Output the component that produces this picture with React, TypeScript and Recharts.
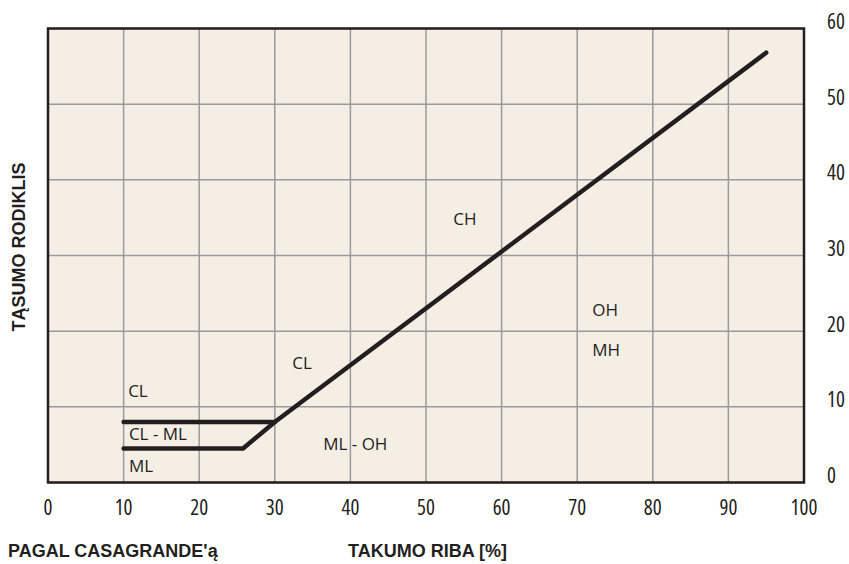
import React from 'react';
import { LineChart, Line, XAxis, YAxis, CartesianGrid, ReferenceArea, ReferenceDot } from 'recharts';

// Casagrande plasticity chart
const xTicks = [0, 10, 20, 30, 40, 50, 60, 70, 80, 90, 100];
const yTicks = [0, 10, 20, 30, 40, 50, 60];

// A-line with the CL-ML lower boundary
const aLineX = [10, 25.8, 30, 95];
const aLineY = [4.5, 4.5, 8, 56.8];

// upper boundary of the CL-ML strip
const clmlTopX = [10, 30];
const clmlTopY = [8, 8];

// zone names and where they sit (left edge, vertical centre)
const zoneNames = ['CL', 'CL - ML', 'ML', 'ML - OH', 'CL', 'CH', 'OH', 'MH'];
const zoneX = [10.6, 10.7, 10.7, 36.4, 32.3, 53.6, 72.0, 72.0];
const zoneY = [12.1, 6.4, 2.2, 5.1, 15.8, 34.8, 22.8, 17.5];

const aLine = aLineX.map((x, i) => ({ x, y: aLineY[i] }));
const clmlTop = clmlTopX.map((x, i) => ({ x, y: clmlTopY[i] }));

const ink = '#231f20';
const tickFont = "'Open Sans', sans-serif";
const zoneFont = "'Open Sans', sans-serif";
const titleStyle: React.CSSProperties = {
  position: 'absolute',
  fontFamily: "'Liberation Sans', Arial, sans-serif",
  fontWeight: 'bold',
  fontSize: 18,
  lineHeight: '18px',
  color: ink,
  whiteSpace: 'nowrap',
};

const XTick = ({ x, y, payload }: any) => (
  <text
    x={x}
    y={y + 32.5}
    textAnchor="middle"
    fill={ink}
    fontSize={21}
    fontFamily={tickFont}
    style={{ fontStretch: '80%' }}
  >
    {payload.value}
  </text>
);

const YTick = ({ x, y, payload }: any) => (
  <text
    x={x + 23}
    y={y + 0.5}
    textAnchor="start"
    fill={ink}
    fontSize={21}
    fontFamily={tickFont}
    style={{ fontStretch: '80%' }}
  >
    {payload.value}
  </text>
);

export default function App() {
  return (
    <div style={{ position: 'absolute', left: 0, top: 0, width: 849, height: 564 }}>
      <LineChart width={849} height={564} margin={{ top: 28.5, right: 0, bottom: 41.5, left: 48 }}>
        <CartesianGrid stroke="#9a9a9a" strokeWidth={1.5} fill="#f5eee4" />
        <XAxis
          type="number"
          dataKey="x"
          domain={[0, 100]}
          ticks={xTicks}
          axisLine={false}
          tickLine={false}
          tickSize={0}
          tickMargin={0}
          height={40}
          tick={<XTick />}
          allowDuplicatedCategory={false}
        />
        <YAxis
          type="number"
          orientation="right"
          domain={[0, 60]}
          ticks={yTicks}
          axisLine={false}
          tickLine={false}
          tickSize={0}
          tickMargin={0}
          width={45}
          tick={<YTick />}
        />
        <Line
          data={clmlTop}
          dataKey="y"
          stroke={ink}
          strokeWidth={4.5}
          strokeLinecap="round"
          dot={false}
          isAnimationActive={false}
        />
        <Line
          data={aLine}
          dataKey="y"
          stroke={ink}
          strokeWidth={4.5}
          strokeLinecap="round"
          strokeLinejoin="round"
          dot={false}
          isAnimationActive={false}
        />
        <ReferenceArea x1={0} x2={100} y1={0} y2={60} fill="none" stroke={ink} strokeWidth={2.5} ifOverflow="visible" />
        {zoneNames.map((name, i) => (
          <ReferenceDot
            key={i}
            x={zoneX[i]}
            y={zoneY[i]}
            r={0}
            ifOverflow="visible"
            shape={(p: any) => (
              <text x={p.cx} y={p.cy + 6} fill={ink} fontSize={17} fontFamily={zoneFont}>
                {name}
              </text>
            )}
          />
        ))}
      </LineChart>
      <div
        style={{
          ...titleStyle,
          left: 18.5,
          top: 247,
          transform: 'translate(-50%, -50%) rotate(-90deg)',
        }}
      >
        TĄSUMO RODIKLIS
      </div>
      <div style={{ ...titleStyle, left: 8, top: 542 }}>PAGAL CASAGRANDE'ą</div>
      <div style={{ ...titleStyle, left: 348, top: 542 }}>TAKUMO RIBA [%]</div>
    </div>
  );
}
